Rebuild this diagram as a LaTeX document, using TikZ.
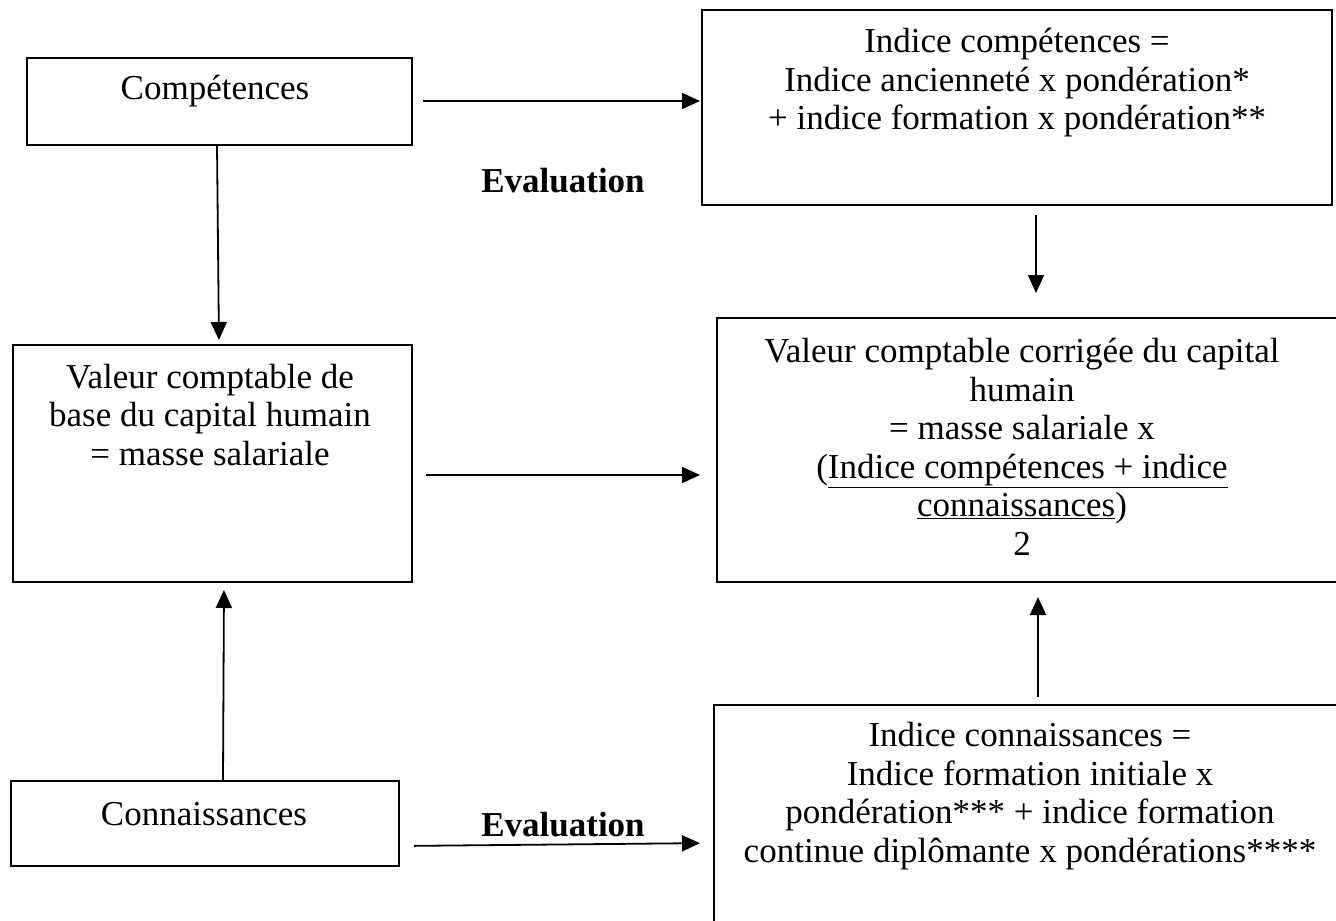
\documentclass[tikz,border=0pt]{standalone}
\usepackage{fontspec}
\setmainfont{Liberation Serif}
\usetikzlibrary{arrows.meta}
\begin{document}
\begin{tikzpicture}[x=1pt,y=-1pt,
  box/.style={draw=black,line width=1.8pt,anchor=north west,inner sep=0pt,outer sep=0pt},
  txt/.style={align=center,inner sep=0pt,font=\fontsize{35}{38.5}\selectfont},
  lbl/.style={inner sep=0pt,font=\fontsize{35}{38.5}\selectfont\bfseries},
  arr/.style={line width=1.8pt,-{Triangle[length=18pt,width=16pt]}}]
\useasboundingbox (0,0) rectangle (1336,921);
\clip (0,0) rectangle (1336,921);
% boxes
\node[box,minimum width=385pt,minimum height=87pt] (comp) at (27,58) {};
\node[box,minimum width=630pt,minimum height=195pt] (tr) at (702,10) {};
\node[box,minimum width=399pt,minimum height=237pt] (base) at (13,345) {};
\node[box,minimum width=630pt,minimum height=264pt] (corr) at (717,318) {};
\node[box,minimum width=388pt,minimum height=85pt] (conn) at (11,781) {};
\node[box,minimum width=640pt,minimum height=240pt] (br) at (714,705) {};
% texts
\node[txt] (tcomp) at (215,91) {Compétences};
\node[txt] (ttr) at (1017,83) {Indice compétences =\\Indice ancienneté x pondération*\\+ indice formation x pondération**};
\node[txt] (tbase) at (210,415) {Valeur comptable de\\base du capital humain\\= masse salariale};
\node[txt] (tcorr) at (1022,447) {Valeur comptable corrigée du capital\\humain\\= masse salariale x\\(\underline{Indice compétences + indice}\\\underline{connaissances})\\2};
\node[txt] (tconn) at (204,814) {Connaissances};
\node[txt] (tbr) at (1030,796) {Indice connaissances =\\Indice formation initiale x\\pondération*** + indice formation\\continue diplômante x pondérations****};
\node[lbl] (ev1) at (563,181) {Evaluation};
\node[lbl] (ev2) at (563,825) {Evaluation};
% arrows
\draw[arr,shorten <=11pt,shorten >=2pt] (comp.east |- 0,101) -- (tr.west |- 0,101);
\draw[arr,shorten >=5pt] (comp.south -| 217,0) -- (base.north -| 219,0);
\draw[arr,shorten <=14pt,shorten >=17pt] (base.east |- 0,475) -- (corr.west |- 0,475);
\draw[arr,shorten <=10pt,shorten >=25pt] (tr.south -| 1036,0) -- (corr.north -| 1036,0);
\draw[arr,shorten <=8pt,shorten >=15pt] (br.north -| 1038,0) -- (corr.south -| 1038,0);
\draw[arr,shorten >=8pt] (conn.north -| 223,0) -- (base.south -| 224,0);
\draw[arr,shorten <=15pt,shorten >=14pt] (conn.east |- 0,846) -- (br.west |- 0,843);
\end{tikzpicture}
\end{document}
